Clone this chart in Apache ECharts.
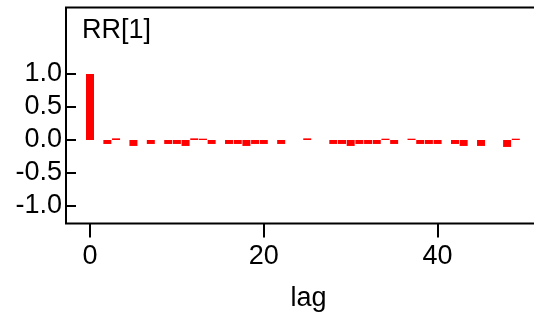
<!DOCTYPE html>
<html>
<head>
<meta charset="utf-8">
<script src="https://cdn.jsdelivr.net/npm/echarts@6/dist/echarts.min.js"></script>
<style>html,body{margin:0;padding:0;background:#fff}#c{width:534px;height:324px}</style>
</head>
<body>
<div id="c"></div>
<script>
const lags = Array.from({length: 50}, (_, i) => i);
const acf = [1.0, 0, -0.06, 0.025, 0, -0.09, 0, -0.06, 0, -0.06,
  -0.06, -0.09, 0.025, 0.02, -0.06, 0, -0.06, -0.06, -0.09, -0.06,
  -0.06, 0, -0.06, 0, 0, 0.025, 0, 0, -0.06, -0.06,
  -0.09, -0.06, -0.06, -0.06, 0.02, -0.06, 0, 0.02, -0.06, -0.06,
  -0.06, 0, -0.06, -0.09, 0, -0.09, 0, 0, -0.105, 0.02];
const xTicks = [0, 20, 40];
const yTicks = [-1, -0.5, 0, 0.5, 1];
const panelTitle = 'RR[1]';
const xName = 'lag';

const font = 'Liberation Sans, Arial, sans-serif';
const chart = echarts.init(document.getElementById('c'), null, {renderer: 'canvas'});
chart.setOption({
  animation: false,
  title: {
    text: panelTitle, left: 82, top: 17, padding: 0,
    textStyle: {fontFamily: font, fontSize: 27, fontWeight: 'normal', color: '#000'}
  },
  grid: {
    left: 66, top: 7.5, width: 485, height: 216,
    outerBoundsMode: 'none', containLabel: false,
    show: true, borderColor: '#000', borderWidth: 2, backgroundColor: 'transparent'
  },
  xAxis: {
    type: 'value', min: -2.76, max: 53.05,
    splitLine: {show: false},
    axisLine: {show: false, onZero: false},
    axisTick: {show: true, customValues: xTicks, length: 14, lineStyle: {color: '#000', width: 2}},
    axisLabel: {customValues: xTicks, margin: 20, fontFamily: font, fontSize: 27, color: '#000'},
    name: xName, nameLocation: 'middle', nameGap: 62,
    nameTextStyle: {fontFamily: font, fontSize: 27, color: '#000'}
  },
  yAxis: {
    type: 'value', min: -1.265, max: 2.0076,
    splitLine: {show: false},
    axisLine: {show: false, onZero: false},
    axisTick: {show: true, inside: true, customValues: yTicks, length: 10, lineStyle: {color: '#000', width: 2}},
    axisLabel: {customValues: yTicks, margin: 4, fontFamily: font, fontSize: 27, color: '#000',
      formatter: v => v.toFixed(1)}
  },
  series: [{
    type: 'bar',
    data: lags.map((l, i) => [l, acf[i]]),
    barWidth: 8,
    itemStyle: {color: '#ff0000'}
  }]
});
</script>
</body>
</html>
